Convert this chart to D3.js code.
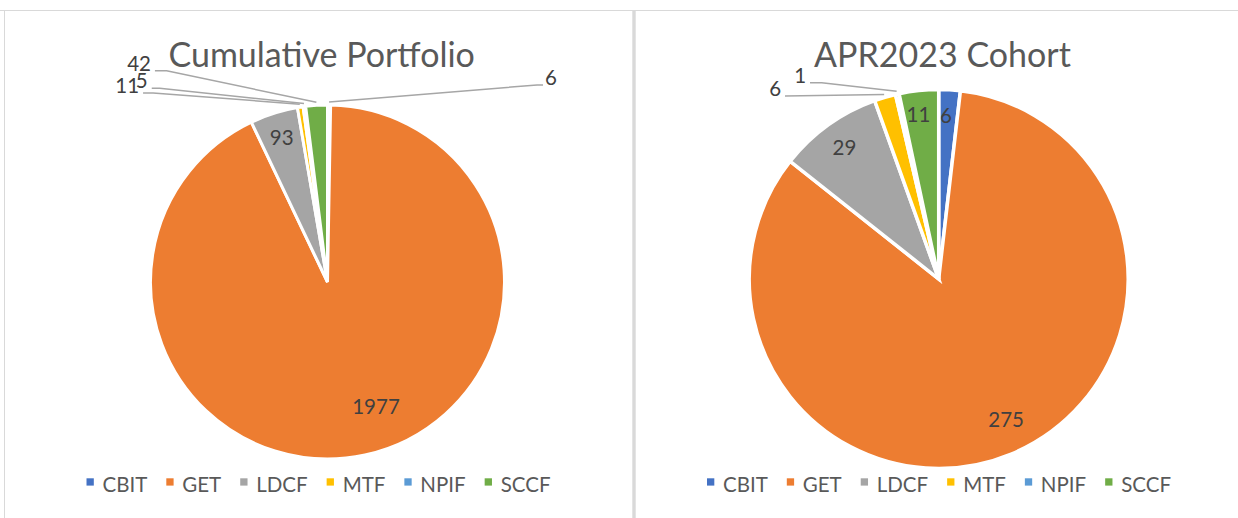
<!DOCTYPE html>
<html>
<head>
<meta charset="utf-8">
<script src="https://cdn.jsdelivr.net/npm/d3@7/dist/d3.min.js"></script>
<style>
  html, body { margin: 0; padding: 0; background: #ffffff; }
  svg { display: block; }
  text { font-family: Lato, "Open Sans", sans-serif; }
</style>
</head>
<body>
<svg id="chart" width="1238" height="518"></svg>
<script>
// ---- data ----
const categories = ["CBIT", "GET", "LDCF", "MTF", "NPIF", "SCCF"];
const cumulativeValues = [6, 1977, 93, 11, 5, 42];
const cohortValues = [6, 275, 29, 6, 1, 11];
const chartTitles = ["Cumulative Portfolio", "APR2023 Cohort"];

// ---- styles / layout ----
const sliceColors = ["#4472C4", "#ED7D31", "#A5A5A5", "#FFC000", "#5B9BD5", "#70AD47"];
const textGray = "#595959";
const labelGray = "#404040";
const leaderGray = "#A6A6A6";

// label placement per slice: inside (radius factor, angle tweak in deg) or outside (anchor rel. to centre in R units, horizontal segment)
const layouts = [
  {
    values: cumulativeValues, title: chartTitles[0],
    cx: 327.5, cy: 282, r: 177, titleX: 321.7, legendCx: 318.5, stroke: 3,
    labels: [
      { out: true, ax: 1.2175, ay: -1.113, seg: 6, side: "right" },
      { rf: 0.757, da: -9 },
      { rf: 0.855, da: 0 },
      { out: true, ax: -1.042, ay: -1.068, seg: 10, side: "left" },
      { out: true, ax: -0.993, ay: -1.094, seg: 8, side: "left" },
      { out: true, ax: -0.975, ay: -1.194, seg: 11.7, side: "left" }
    ]
  },
  {
    values: cohortValues, title: chartTitles[1],
    cx: 938.7, cy: 279, r: 189.5, titleX: 942.5, legendCx: 939, stroke: 3.5,
    labels: [
      { rf: 0.86, da: -0.7 },
      { rf: 0.826, da: -3 },
      { rf: 0.853, da: 0 },
      { out: true, ax: -0.811, ay: -0.966, seg: 0, side: "left" },
      { out: true, ax: -0.679, ay: -1.036, seg: 11.7, side: "left" },
      { rf: 0.87, da: -1 }
    ]
  }
];

const svg = d3.select("#chart");
const color = d3.scaleOrdinal().domain(categories).range(sliceColors);

// frames
svg.append("line").attr("x1", 0).attr("x2", 1238).attr("y1", 10.5).attr("y2", 10.5)
  .attr("stroke", "#D9D9D9").attr("stroke-width", 1);
svg.append("line").attr("x1", 4.5).attr("x2", 4.5).attr("y1", 10).attr("y2", 518)
  .attr("stroke", "#D9D9D9").attr("stroke-width", 1);
svg.append("rect").attr("x", 632.3).attr("y", 10).attr("width", 3.4).attr("height", 508)
  .attr("fill", "#D9D9D9");

const pie = d3.pie().sort(null).value(d => d.v);

layouts.forEach(cfg => {
  const data = categories.map((c, i) => ({ c, v: cfg.values[i], i }));
  const arcs = pie(data);
  const g = svg.append("g").attr("transform", `translate(${cfg.cx},${cfg.cy})`);
  const arc = d3.arc().innerRadius(0).outerRadius(cfg.r);

  g.selectAll("path.slice").data(arcs).join("path")
    .attr("class", "slice")
    .attr("d", arc)
    .attr("fill", d => color(d.data.c))
    .attr("stroke", "#ffffff")
    .attr("stroke-width", cfg.stroke)
    .attr("stroke-linejoin", "miter");

  arcs.forEach((a, i) => {
    const spec = cfg.labels[i];
    const mid = (a.startAngle + a.endAngle) / 2;
    if (!spec.out) {
      const ang = mid + spec.da * Math.PI / 180;
      const rr = cfg.r * spec.rf;
      g.append("text")
        .attr("x", rr * Math.sin(ang))
        .attr("y", -rr * Math.cos(ang))
        .attr("dy", 7)
        .attr("text-anchor", "middle")
        .attr("font-size", 20.5)
        .attr("fill", labelGray)
        .text(a.data.v);
    } else {
      const tx = spec.ax * cfg.r, ty = spec.ay * cfg.r;
      const ex = spec.side === "left" ? tx + spec.seg : tx - spec.seg;
      const er = cfg.r + 3;
      const px = er * Math.sin(mid), py = -er * Math.cos(mid);
      g.append("polyline")
        .attr("points", [[tx, ty], [ex, ty], [px, py]].map(p => p.join(",")).join(" "))
        .attr("fill", "none")
        .attr("stroke", leaderGray)
        .attr("stroke-width", 1.5);
      g.append("text")
        .attr("x", spec.side === "left" ? tx - 4 : tx + 2)
        .attr("y", ty)
        .attr("text-anchor", spec.side === "left" ? "end" : "start")
        .attr("font-size", 20.5)
        .attr("fill", labelGray)
        .text(a.data.v);
    }
  });

  // title
  svg.append("text")
    .attr("x", cfg.titleX).attr("y", 66.5)
    .attr("text-anchor", "middle")
    .attr("font-size", 34)
    .attr("fill", textGray)
    .text(cfg.title);

  // legend
  const lg = svg.append("g");
  const items = lg.selectAll("g").data(categories).join("g");
  items.append("rect").attr("width", 7.3).attr("height", 7.3).attr("y", 478.3)
    .attr("fill", d => color(d));
  items.append("text").attr("x", 16).attr("y", 492.3)
    .attr("font-size", 20.5).attr("fill", textGray).text(d => d);
  let x = 0;
  const gap = 19;
  items.each(function () {
    const w = d3.select(this).select("text").node().getComputedTextLength();
    d3.select(this).attr("transform", `translate(${x},0)`);
    x += 16 + w + gap;
  });
  const total = x - gap;
  lg.attr("transform", `translate(${cfg.legendCx - total / 2},0)`);
});
</script>
</body>
</html>
